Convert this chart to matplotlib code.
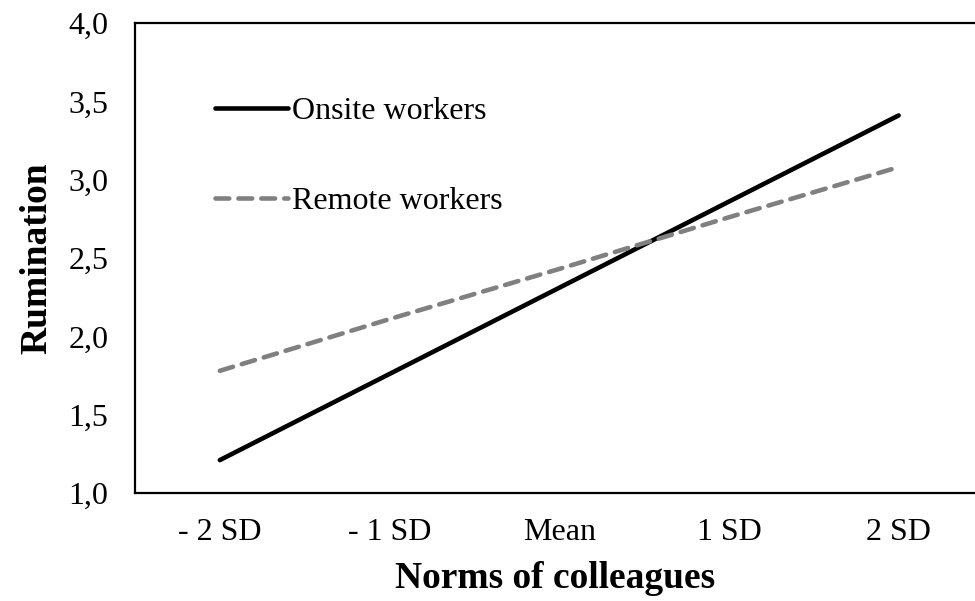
import matplotlib
matplotlib.use("Agg")
import matplotlib.pyplot as plt
import numpy as np

plt.rcParams['font.family'] = ['Liberation Serif', 'DejaVu Serif']

categories = ['- 2 SD', '- 1 SD', 'Mean', '1 SD', '2 SD']
onsite = [1.21, 1.76, 2.31, 2.86, 3.41]
remote = [1.78, 2.11, 2.43, 2.76, 3.08]
yticks = [1.0, 1.5, 2.0, 2.5, 3.0, 3.5, 4.0]

fig = plt.figure(figsize=(9.75, 6.01), dpi=100)
ax = fig.add_axes([135 / 975, 1 - 493 / 601, 840 / 975, 470 / 601])

x = np.arange(len(categories))
ax.plot(x, onsite, color='black', lw=3.3, solid_capstyle='round', label='Onsite workers')
ax.plot(x, remote, color='#808080', lw=3.3, linestyle=(0, (3, 2.0)),
        dash_capstyle='round', label='Remote workers')

ax.set_xlim(-0.5, 4.45)
ax.set_ylim(1.0, 4.0)
ax.set_xticks(x)
ax.set_xticklabels(categories)
ax.set_yticks(yticks)
ax.set_yticklabels([f"{v:.1f}".replace('.', ',') for v in yticks])
ax.tick_params(axis='y', length=0, pad=19, labelsize=23)
ax.tick_params(axis='x', length=0, pad=18, labelsize=23)

for s in ['left', 'top', 'bottom']:
    ax.spines[s].set_linewidth(1.6)
ax.spines['right'].set_visible(False)

ax.set_ylabel('Rumination', fontsize=27, fontweight='bold', labelpad=10)
ax.set_xlabel('Norms of colleagues', fontsize=27, fontweight='bold', labelpad=10)

leg = ax.legend(loc='upper left', bbox_to_anchor=(0.08, 0.87), frameon=False,
                fontsize=23, handlelength=2.3, handletextpad=0.1,
                labelspacing=1.9, borderaxespad=0)

plt.savefig('out.png', dpi=100)
